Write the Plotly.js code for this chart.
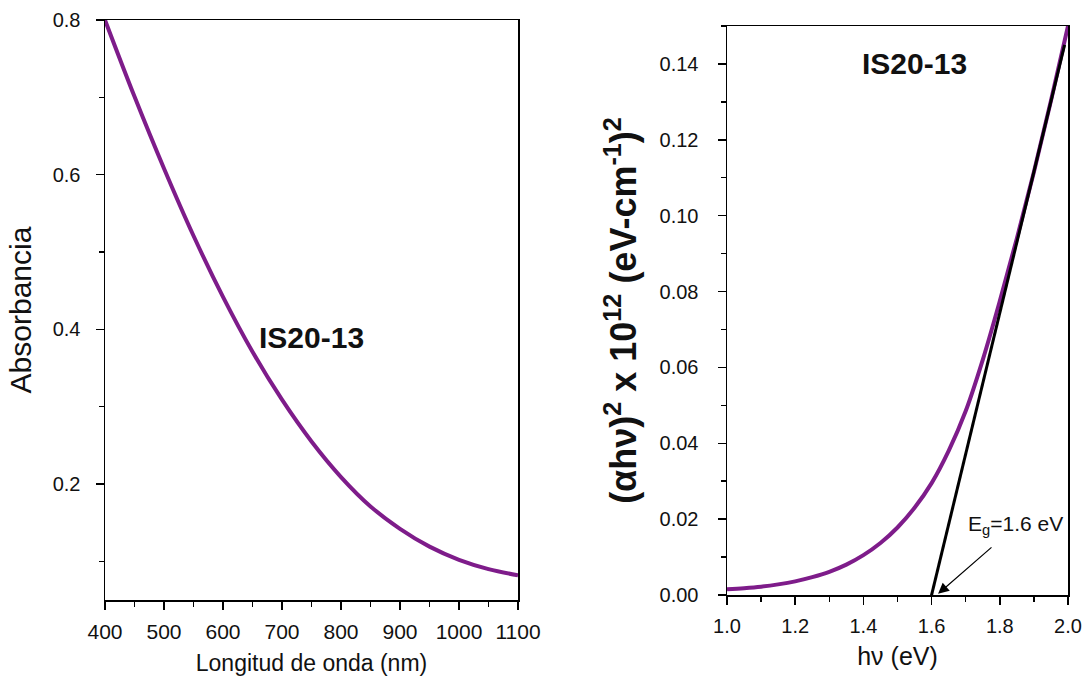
<!DOCTYPE html>
<html>
<head>
<meta charset="utf-8">
<script src="https://cdn.plot.ly/plotly-3.0.1.min.js"></script>
<style>html,body{margin:0;padding:0;background:#fff;}#chart{width:1087px;height:687px;}</style>
</head>
<body>
<div id="chart"></div>
<script>
// Left panel: absorbance vs wavelength
const wavelength = [400, 450, 500, 550, 600, 650, 700, 750, 800, 850, 900, 950, 1000, 1050, 1100];
const absorbance = [0.800, 0.701, 0.608, 0.521, 0.442, 0.371, 0.309, 0.255, 0.209, 0.171, 0.142, 0.119, 0.102, 0.090, 0.082];

// Right panel: Tauc plot
const photonEnergy = [1.00, 1.05, 1.10, 1.15, 1.20, 1.25, 1.30, 1.35, 1.40, 1.45, 1.50, 1.55, 1.60, 1.65, 1.70, 1.75, 1.80, 1.85, 1.90, 1.95, 2.00];
const taucValue = [0.0015, 0.0018, 0.0022, 0.0028, 0.0036, 0.0047, 0.0061, 0.0080, 0.0105, 0.0137, 0.0178, 0.0230, 0.0295, 0.0380, 0.0485, 0.0620, 0.0775, 0.0940, 0.1115, 0.1303, 0.1500];

// Linear extrapolation (tangent) line
const fitX = [1.59, 1.99];
const fitY = [-0.0037, 0.145];

const sampleLabel = "IS20-13";
const gapLabel = "E<sub>g</sub>=1.6 eV";

const purple = "#7e1c8a";
const font = "Liberation Sans, Arial, sans-serif";

const traces = [
  {x: wavelength, y: absorbance, xaxis: "x", yaxis: "y", mode: "lines",
   line: {color: purple, width: 4, shape: "spline", smoothing: 1}, showlegend: false},
  {x: photonEnergy, y: taucValue, xaxis: "x2", yaxis: "y2", mode: "lines",
   line: {color: purple, width: 4, shape: "spline", smoothing: 1}, showlegend: false},
  {x: fitX, y: fitY, xaxis: "x2", yaxis: "y2", mode: "lines",
   line: {color: "#000", width: 3}, showlegend: false}
];

function axisBase(tickSize, standoff) {
  return {
    showline: true, mirror: true, linecolor: "#000", linewidth: 1.5,
    ticks: "outside", ticklen: 8, tickwidth: 1.5, tickcolor: "#000",
    showgrid: false, zeroline: false, ticklabelstandoff: standoff,
    tickfont: {family: font, size: tickSize, color: "#111"}
  };
}
const minorStyle = {ticks: "outside", ticklen: 5, tickwidth: 1.5, tickcolor: "#000"};

const layout = {
  width: 1087, height: 687,
  margin: {l: 0, r: 0, t: 0, b: 0},
  paper_bgcolor: "#fff", plot_bgcolor: "#fff",
  font: {family: font, color: "#111"},
  xaxis: Object.assign(axisBase(21, 4), {
    domain: [105/1087, 518/1087], range: [400, 1100], anchor: "y",
    tickvals: [400, 500, 600, 700, 800, 900, 1000, 1100],
    minor: Object.assign({dtick: 50, tick0: 400}, minorStyle),
    title: {text: "Longitud de onda (nm)", font: {family: font, size: 23}, standoff: 13}
  }),
  yaxis: Object.assign(axisBase(20, 11), {
    domain: [(687-600)/687, (687-20)/687], range: [0.05, 0.8], anchor: "x",
    tickvals: [0.2, 0.4, 0.6, 0.8], tickformat: ".1f",
    minor: Object.assign({tickvals: [0.1, 0.3, 0.5, 0.7]}, minorStyle),
    title: {text: "Absorbancia", font: {family: font, size: 30}, standoff: 12}
  }),
  xaxis2: Object.assign(axisBase(20, 4), {
    domain: [727/1087, 1068/1087], range: [1.0, 2.0], anchor: "y2",
    tickvals: [1.0, 1.2, 1.4, 1.6, 1.8, 2.0], tickformat: ".1f",
    minor: Object.assign({dtick: 0.1, tick0: 1.0}, minorStyle),
    title: {text: "h\u03bd (eV)", font: {family: font, size: 25}, standoff: 12}
  }),
  yaxis2: Object.assign(axisBase(20, 15), {
    domain: [(687-595)/687, (687-26)/687], range: [0, 0.15], anchor: "x2",
    dtick: 0.02, tick0: 0, tickformat: ".2f",
    minor: Object.assign({dtick: 0.01, tick0: 0}, minorStyle),
    title: {text: "<b>(\u03b1h\u03bd)<sup>2</sup> x 10<sup>12</sup> (eV-cm<sup>-1</sup>)<sup>2</sup></b>", font: {family: font, size: 36}, standoff: 12}
  }),
  annotations: [
    {xref: "x", yref: "y", x: 750, y: 0.39, text: "<b>" + sampleLabel + "</b>", showarrow: false,
     font: {family: font, size: 30, color: "#111"}},
    {xref: "x2", yref: "y2", x: 1.55, y: 0.140, text: "<b>" + sampleLabel + "</b>", showarrow: false,
     font: {family: font, size: 30, color: "#111"}},
    {xref: "x2", yref: "y2", x: 1.845, y: 0.0185, text: gapLabel, showarrow: false,
     font: {family: font, size: 21, color: "#111"}},
    {xref: "x2", yref: "y2", axref: "x2", ayref: "y2", x: 1.619, y: 0.0003, ax: 1.78, ay: 0.0129,
     text: "", showarrow: true, arrowhead: 2, arrowsize: 1.8, arrowwidth: 1.2, arrowcolor: "#000"}
  ]
};

Plotly.newPlot("chart", traces, layout, {displayModeBar: false, staticPlot: true});
</script>
</body>
</html>
